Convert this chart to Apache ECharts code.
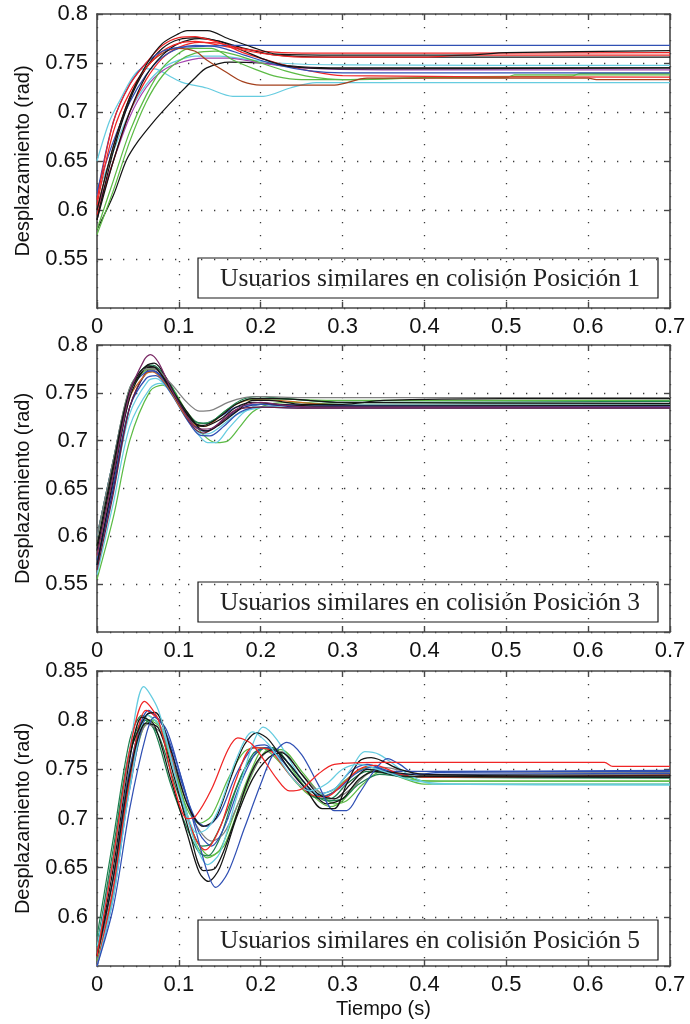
<!DOCTYPE html>
<html>
<head>
<meta charset="utf-8">
<script src="https://cdn.jsdelivr.net/npm/echarts@6/dist/echarts.min.js"></script>
<style>
  html, body { margin: 0; padding: 0; background: #fff; }
  #chart { width: 690px; height: 1024px; }
</style>
</head>
<body>
<div id="chart"></div>
<script>
// ---- Shared axis settings ----
const timeTicks = [0, 0.1, 0.2, 0.3, 0.4, 0.5, 0.6, 0.7];
const yRanges = [[0.5, 0.8], [0.5, 0.8], [0.55, 0.85]];
const boxTexts = [
  'Usuarios similares en colisión Posición 1',
  'Usuarios similares en colisión Posición 3',
  'Usuarios similares en colisión Posición 5'
];
const xTitle = 'Tiempo (s)';
const yTitle = 'Desplazamiento (rad)';

// ---- Colours ----
const C = {
  blue: '#3050b4', navy: '#1f2d86', red: '#f02525', black: '#151515',
  cyan: '#66cce0', green: '#5cbb45', dgreen: '#1f8050', brown: '#a4401c',
  purple: '#a444b0', plum: '#7a2a66', gray: '#808080', orange: '#cc6a22',
  maroon: '#6e2040'
};

// ---- Position 1 responses [t (s), rad] ----
const p1BlueA  = [[0,0.615],[0.02,0.69],[0.04,0.728],[0.06,0.75],[0.08,0.762],[0.1,0.766],[0.13,0.767],[0.16,0.768],[0.7,0.768]];
const p1RedA   = [[0,0.61],[0.02,0.69],[0.04,0.728],[0.06,0.75],[0.08,0.768],[0.1,0.776],[0.12,0.777],[0.14,0.773],[0.17,0.766],[0.2,0.762],[0.25,0.76],[0.7,0.7605]];
const p1BlackA = [[0,0.6],[0.02,0.665],[0.04,0.715],[0.06,0.748],[0.08,0.77],[0.1,0.78],[0.11,0.783],[0.135,0.783],[0.16,0.775],[0.19,0.766],[0.22,0.759],[0.3,0.758],[0.45,0.758],[0.5,0.7605],[0.7,0.7626]];
const p1BlackB = [[0,0.59],[0.02,0.65],[0.04,0.7],[0.06,0.737],[0.08,0.758],[0.1,0.77],[0.125,0.775],[0.15,0.772],[0.18,0.762],[0.21,0.752],[0.24,0.746],[0.3,0.744],[0.7,0.745]];
const p1Brown  = [[0,0.6],[0.02,0.665],[0.04,0.715],[0.06,0.745],[0.08,0.76],[0.099,0.765],[0.12,0.762],[0.134,0.753],[0.159,0.74],[0.178,0.731],[0.2,0.7275],[0.29,0.7275],[0.33,0.7345],[0.6,0.7345],[0.61,0.733],[0.7,0.733]];
const p1CyanA  = [[0,0.65],[0.015,0.69],[0.028,0.712],[0.044,0.736],[0.055,0.744],[0.07,0.744],[0.09,0.736],[0.105,0.73],[0.134,0.7245],[0.166,0.716],[0.203,0.716],[0.236,0.7245],[0.268,0.73],[0.7,0.73]];
const p1CyanB  = [[0,0.615],[0.02,0.66],[0.04,0.7],[0.06,0.728],[0.08,0.745],[0.1,0.753],[0.12,0.757],[0.15,0.757],[0.18,0.754],[0.22,0.75],[0.3,0.748],[0.7,0.7476]];
const p1Purple = [[0,0.6],[0.02,0.65],[0.04,0.695],[0.06,0.725],[0.08,0.742],[0.1,0.75],[0.13,0.755],[0.16,0.755],[0.2,0.75],[0.25,0.745],[0.35,0.743],[0.7,0.743]];
const p1GreenA = [[0,0.58],[0.02,0.63],[0.04,0.68],[0.06,0.717],[0.08,0.745],[0.1,0.76],[0.113,0.765],[0.14,0.765],[0.166,0.753],[0.195,0.743],[0.22,0.736],[0.25,0.733],[0.3,0.733],[0.45,0.736],[0.58,0.7365],[0.59,0.7395],[0.7,0.7395]];
const p1GreenB = [[0,0.575],[0.02,0.62],[0.04,0.67],[0.06,0.71],[0.08,0.737],[0.1,0.752],[0.12,0.76],[0.145,0.762],[0.17,0.758],[0.2,0.75],[0.23,0.742],[0.26,0.736],[0.3,0.733],[0.4,0.735],[0.5,0.735],[0.51,0.738],[0.7,0.738]];
const p1RedB   = [[0,0.595],[0.02,0.65],[0.04,0.7],[0.06,0.733],[0.08,0.755],[0.1,0.766],[0.125,0.771],[0.15,0.77],[0.18,0.76],[0.22,0.75],[0.26,0.742],[0.3,0.737],[0.7,0.7355]];
const p1BlackC = [[0,0.58],[0.02,0.615],[0.036,0.651],[0.05,0.67],[0.069,0.69],[0.085,0.705],[0.101,0.719],[0.12,0.735],[0.134,0.745],[0.162,0.751],[0.2,0.75],[0.25,0.746],[0.3,0.745],[0.7,0.745]];
const p1BlueB  = [[0,0.62],[0.02,0.67],[0.04,0.71],[0.06,0.738],[0.08,0.756],[0.1,0.765],[0.12,0.768],[0.15,0.766],[0.18,0.758],[0.22,0.748],[0.26,0.742],[0.3,0.74],[0.7,0.74]];
const p1RedC   = [[0,0.605],[0.02,0.68],[0.04,0.72],[0.06,0.745],[0.08,0.762],[0.1,0.77],[0.12,0.772],[0.15,0.768],[0.2,0.76],[0.25,0.756],[0.4,0.756],[0.45,0.758],[0.7,0.758]];
const p1BlackD = [[0,0.59],[0.02,0.66],[0.04,0.712],[0.06,0.745],[0.08,0.765],[0.1,0.774],[0.125,0.776],[0.15,0.772],[0.18,0.765],[0.22,0.758],[0.3,0.756],[0.7,0.756]];

// ---- Position 3 responses ----
const p3Plum   = [[0,0.58],[0.02,0.665],[0.04,0.75],[0.058,0.785],[0.065,0.79],[0.075,0.782],[0.09,0.755],[0.11,0.725],[0.125,0.712],[0.14,0.713],[0.16,0.727],[0.18,0.737],[0.2,0.74],[0.23,0.737],[0.26,0.735],[0.7,0.735]];
const p3BlackA = [[0,0.57],[0.02,0.66],[0.04,0.745],[0.06,0.778],[0.07,0.781],[0.085,0.765],[0.1,0.74],[0.12,0.718],[0.13,0.715],[0.15,0.722],[0.17,0.735],[0.19,0.74],[0.22,0.738],[0.28,0.736],[0.7,0.737]];
const p3BlackB = [[0,0.59],[0.02,0.675],[0.04,0.752],[0.062,0.778],[0.072,0.776],[0.09,0.755],[0.11,0.73],[0.125,0.713],[0.135,0.71],[0.15,0.717],[0.17,0.73],[0.19,0.742],[0.21,0.742],[0.25,0.738],[0.3,0.738],[0.35,0.742],[0.5,0.744],[0.7,0.744]];
const p3Gray   = [[0,0.6],[0.02,0.68],[0.04,0.755],[0.06,0.775],[0.07,0.775],[0.09,0.76],[0.11,0.74],[0.125,0.731],[0.14,0.732],[0.16,0.74],[0.18,0.745],[0.2,0.746],[0.25,0.745],[0.7,0.745]];
const p3GreenA = [[0,0.555],[0.02,0.62],[0.04,0.7],[0.065,0.752],[0.08,0.758],[0.09,0.752],[0.11,0.728],[0.13,0.706],[0.145,0.698],[0.16,0.7],[0.175,0.715],[0.19,0.73],[0.21,0.738],[0.24,0.74],[0.3,0.738],[0.7,0.738]];
const p3CyanA  = [[0,0.56],[0.02,0.635],[0.04,0.715],[0.065,0.755],[0.077,0.76],[0.09,0.752],[0.11,0.725],[0.125,0.705],[0.135,0.698],[0.145,0.698],[0.16,0.712],[0.18,0.73],[0.2,0.738],[0.24,0.737],[0.3,0.736],[0.7,0.736]];
const p3DGreen = [[0,0.6],[0.02,0.68],[0.04,0.755],[0.06,0.778],[0.068,0.779],[0.085,0.765],[0.105,0.735],[0.12,0.72],[0.135,0.718],[0.155,0.73],[0.175,0.742],[0.195,0.746],[0.23,0.744],[0.3,0.74],[0.7,0.741]];
const p3BlueA  = [[0,0.575],[0.02,0.655],[0.04,0.735],[0.06,0.765],[0.072,0.768],[0.09,0.75],[0.11,0.722],[0.125,0.706],[0.138,0.705],[0.155,0.715],[0.175,0.73],[0.2,0.735],[0.25,0.734],[0.7,0.734]];
const p3Navy   = [[0,0.57],[0.02,0.65],[0.04,0.735],[0.062,0.772],[0.07,0.773],[0.09,0.752],[0.11,0.725],[0.13,0.71],[0.14,0.712],[0.16,0.725],[0.18,0.735],[0.2,0.738],[0.25,0.735],[0.4,0.735],[0.7,0.735]];
const p3Orange = [[0,0.58],[0.02,0.665],[0.04,0.745],[0.06,0.77],[0.068,0.772],[0.085,0.758],[0.105,0.73],[0.12,0.716],[0.132,0.715],[0.15,0.725],[0.17,0.738],[0.19,0.743],[0.22,0.742],[0.3,0.737],[0.7,0.737]];
const p3Maroon = [[0,0.565],[0.02,0.645],[0.04,0.735],[0.06,0.772],[0.07,0.775],[0.085,0.762],[0.105,0.73],[0.12,0.712],[0.13,0.708],[0.15,0.718],[0.17,0.732],[0.2,0.735],[0.25,0.734],[0.7,0.734]];
const p3BlackC = [[0,0.585],[0.02,0.67],[0.04,0.75],[0.06,0.776],[0.07,0.777],[0.085,0.76],[0.105,0.733],[0.12,0.718],[0.13,0.716],[0.15,0.725],[0.17,0.738],[0.19,0.744],[0.22,0.744],[0.3,0.74],[0.7,0.739]];
const p3GreenB = [[0,0.59],[0.02,0.672],[0.04,0.75],[0.06,0.774],[0.07,0.775],[0.09,0.758],[0.11,0.73],[0.125,0.718],[0.14,0.72],[0.16,0.733],[0.18,0.742],[0.2,0.744],[0.3,0.742],[0.7,0.742]];
const p3CyanB  = [[0,0.57],[0.02,0.648],[0.04,0.728],[0.062,0.762],[0.072,0.765],[0.09,0.75],[0.11,0.722],[0.125,0.708],[0.135,0.707],[0.15,0.714],[0.17,0.727],[0.19,0.733],[0.22,0.736],[0.3,0.738],[0.7,0.738]];
const p3BlueB  = [[0,0.6],[0.02,0.68],[0.04,0.752],[0.06,0.772],[0.068,0.773],[0.085,0.76],[0.1,0.74],[0.12,0.72],[0.13,0.718],[0.15,0.725],[0.17,0.735],[0.2,0.738],[0.3,0.737],[0.7,0.736]];

// ---- Position 5 responses ----
const p5CyanA  = [[0,0.57],[0.02,0.66],[0.04,0.77],[0.057,0.834],[0.075,0.81],[0.095,0.745],[0.112,0.7],[0.122,0.685],[0.135,0.69],[0.15,0.712],[0.17,0.76],[0.19,0.788],[0.21,0.775],[0.24,0.74],[0.26,0.728],[0.28,0.735],[0.30,0.75],[0.32,0.755],[0.35,0.748],[0.39,0.738],[0.45,0.735],[0.7,0.735]];
const p5CyanB  = [[0,0.55],[0.02,0.62],[0.04,0.73],[0.062,0.805],[0.08,0.79],[0.1,0.73],[0.12,0.675],[0.135,0.653],[0.15,0.665],[0.17,0.72],[0.19,0.775],[0.203,0.793],[0.22,0.78],[0.25,0.74],[0.27,0.725],[0.29,0.73],[0.31,0.75],[0.327,0.768],[0.345,0.765],[0.38,0.745],[0.41,0.735],[0.7,0.734]];
const p5RedA   = [[0,0.56],[0.02,0.66],[0.04,0.77],[0.058,0.819],[0.075,0.8],[0.095,0.73],[0.11,0.7],[0.12,0.702],[0.14,0.73],[0.16,0.77],[0.172,0.782],[0.19,0.775],[0.22,0.74],[0.235,0.728],[0.25,0.73],[0.27,0.745],[0.29,0.755],[0.35,0.757],[0.62,0.757],[0.63,0.753],[0.7,0.753]];
const p5RedB   = [[0,0.55],[0.02,0.63],[0.04,0.74],[0.06,0.81],[0.08,0.795],[0.1,0.73],[0.12,0.68],[0.132,0.668],[0.15,0.69],[0.17,0.74],[0.19,0.772],[0.21,0.77],[0.235,0.745],[0.26,0.725],[0.28,0.722],[0.3,0.735],[0.32,0.75],[0.34,0.754],[0.37,0.745],[0.4,0.742],[0.7,0.744]];
const p5BlackA = [[0,0.56],[0.02,0.65],[0.04,0.76],[0.055,0.803],[0.07,0.795],[0.09,0.74],[0.11,0.685],[0.125,0.645],[0.136,0.636],[0.15,0.65],[0.17,0.7],[0.19,0.74],[0.21,0.762],[0.225,0.767],[0.25,0.745],[0.27,0.725],[0.29,0.72],[0.31,0.735],[0.33,0.75],[0.36,0.747],[0.4,0.744],[0.7,0.744]];
const p5BlackB = [[0,0.57],[0.02,0.66],[0.04,0.765],[0.06,0.805],[0.071,0.808],[0.09,0.77],[0.11,0.715],[0.13,0.692],[0.145,0.7],[0.165,0.745],[0.18,0.775],[0.195,0.787],[0.21,0.78],[0.235,0.75],[0.255,0.73],[0.275,0.71],[0.29,0.71],[0.305,0.735],[0.32,0.758],[0.335,0.762],[0.37,0.75],[0.4,0.745],[0.7,0.742]];
const p5BlackC = [[0,0.56],[0.02,0.64],[0.04,0.745],[0.06,0.797],[0.075,0.792],[0.095,0.74],[0.115,0.68],[0.13,0.647],[0.145,0.65],[0.165,0.69],[0.185,0.74],[0.2,0.763],[0.215,0.77],[0.235,0.755],[0.26,0.73],[0.28,0.715],[0.3,0.72],[0.32,0.74],[0.34,0.748],[0.37,0.743],[0.7,0.742]];
const p5BlueA  = [[0,0.55],[0.02,0.61],[0.04,0.71],[0.06,0.785],[0.07,0.803],[0.08,0.795],[0.1,0.75],[0.12,0.69],[0.135,0.645],[0.145,0.63],[0.16,0.645],[0.18,0.69],[0.2,0.735],[0.215,0.765],[0.232,0.7775],[0.25,0.765],[0.27,0.735],[0.29,0.708],[0.305,0.708],[0.32,0.725],[0.34,0.75],[0.355,0.761],[0.37,0.755],[0.39,0.745],[0.42,0.747],[0.7,0.748]];
const p5BlueB  = [[0,0.56],[0.02,0.64],[0.04,0.75],[0.063,0.81],[0.08,0.795],[0.1,0.745],[0.12,0.7],[0.133,0.692],[0.15,0.705],[0.17,0.745],[0.19,0.772],[0.205,0.775],[0.225,0.76],[0.25,0.735],[0.27,0.725],[0.29,0.73],[0.31,0.748],[0.33,0.755],[0.36,0.748],[0.4,0.748],[0.7,0.749]];
const p5BlueC  = [[0,0.55],[0.02,0.62],[0.04,0.73],[0.065,0.808],[0.085,0.79],[0.105,0.735],[0.125,0.685],[0.14,0.672],[0.155,0.69],[0.175,0.735],[0.195,0.768],[0.21,0.772],[0.23,0.76],[0.255,0.735],[0.275,0.722],[0.295,0.73],[0.315,0.745],[0.335,0.752],[0.37,0.745],[0.4,0.745],[0.7,0.746]];
const p5Gray   = [[0,0.56],[0.02,0.63],[0.04,0.74],[0.062,0.796],[0.08,0.785],[0.1,0.74],[0.12,0.695],[0.14,0.677],[0.155,0.685],[0.175,0.72],[0.195,0.755],[0.21,0.768],[0.225,0.768],[0.25,0.745],[0.27,0.728],[0.29,0.72],[0.31,0.73],[0.33,0.745],[0.35,0.752],[0.38,0.748],[0.7,0.747]];
const p5GreenA = [[0,0.57],[0.02,0.66],[0.04,0.765],[0.06,0.8],[0.07,0.8],[0.09,0.76],[0.11,0.71],[0.125,0.695],[0.14,0.703],[0.16,0.74],[0.18,0.768],[0.2,0.772],[0.22,0.76],[0.245,0.735],[0.265,0.722],[0.285,0.725],[0.305,0.74],[0.33,0.752],[0.35,0.75],[0.38,0.74],[0.42,0.738],[0.7,0.738]];
const p5GreenB = [[0,0.555],[0.02,0.625],[0.04,0.735],[0.064,0.8],[0.08,0.79],[0.1,0.735],[0.12,0.68],[0.138,0.662],[0.155,0.672],[0.175,0.715],[0.195,0.755],[0.21,0.77],[0.225,0.77],[0.25,0.748],[0.27,0.728],[0.29,0.715],[0.305,0.718],[0.325,0.735],[0.345,0.747],[0.37,0.745],[0.4,0.738],[0.7,0.738]];
const p5GreenC = [[0,0.56],[0.02,0.64],[0.04,0.75],[0.062,0.805],[0.08,0.79],[0.1,0.735],[0.12,0.676],[0.135,0.66],[0.15,0.668],[0.17,0.71],[0.19,0.752],[0.205,0.772],[0.22,0.77],[0.245,0.742],[0.265,0.722],[0.285,0.712],[0.3,0.718],[0.32,0.738],[0.34,0.75],[0.37,0.742],[0.4,0.735],[0.7,0.735]];
const p5DGreenA = [[0,0.58],[0.02,0.68],[0.04,0.78],[0.055,0.805],[0.07,0.79],[0.09,0.735],[0.11,0.69],[0.125,0.665],[0.135,0.662],[0.15,0.68],[0.17,0.73],[0.19,0.765],[0.205,0.772],[0.22,0.765],[0.245,0.74],[0.265,0.722],[0.285,0.72],[0.305,0.735],[0.33,0.748],[0.36,0.745],[0.4,0.742],[0.7,0.742]];
const p5DGreenB = [[0,0.57],[0.02,0.67],[0.04,0.77],[0.058,0.8],[0.075,0.785],[0.095,0.735],[0.115,0.69],[0.128,0.672],[0.14,0.675],[0.16,0.71],[0.18,0.75],[0.2,0.77],[0.215,0.772],[0.235,0.755],[0.26,0.73],[0.28,0.718],[0.3,0.72],[0.32,0.735],[0.345,0.745],[0.38,0.742],[0.7,0.741]];

const panels = [
  [
    [p1CyanA, C.cyan], [p1CyanB, C.cyan], [p1BlackC, C.black], [p1Purple, C.purple],
    [p1GreenA, C.green], [p1GreenB, C.green], [p1RedB, C.red], [p1BlueB, C.blue],
    [p1Brown, C.brown], [p1BlackB, C.black], [p1BlackD, C.black], [p1RedC, C.red],
    [p1BlueA, C.blue], [p1RedA, C.red], [p1BlackA, C.black]
  ],
  [
    [p3GreenA, C.green], [p3CyanA, C.cyan], [p3CyanB, C.cyan], [p3BlueA, C.blue],
    [p3Navy, C.navy], [p3Maroon, C.maroon], [p3Orange, C.orange], [p3BlueB, C.blue],
    [p3GreenB, C.green], [p3DGreen, C.dgreen], [p3BlackC, C.black], [p3BlackA, C.black],
    [p3Gray, C.gray], [p3BlackB, C.black], [p3Plum, C.plum]
  ],
  [
    [p5GreenA, C.green], [p5GreenB, C.green], [p5GreenC, C.green], [p5DGreenA, C.dgreen],
    [p5DGreenB, C.dgreen], [p5Gray, C.gray], [p5BlueB, C.blue], [p5BlueC, C.blue],
    [p5RedB, C.red], [p5CyanB, C.cyan], [p5BlackC, C.black], [p5BlackA, C.black],
    [p5BlueA, C.blue], [p5BlackB, C.black], [p5CyanA, C.cyan], [p5RedA, C.red]
  ]
];

// ---- Layout ----
const gridBoxes = [
  { left: 97, top: 14, width: 573, height: 294 },
  { left: 97, top: 345, width: 573, height: 287 },
  { left: 97, top: 671, width: 573, height: 295 }
];
const frame = '#474747';
const sansFamily = 'Liberation Sans, Arial, sans-serif';
const tickFont = { fontFamily: sansFamily, fontSize: 22, color: '#111' };
const titleFont = { fontFamily: sansFamily, fontSize: 20, color: '#111' };
const dotted = { color: '#3a3a3a', width: 1.3, type: [1.3, 11.7] };

const option = {
  animation: false,
  backgroundColor: '#fff',
  grid: gridBoxes.map(g => Object.assign({ containLabel: false }, g)),
  xAxis: [],
  yAxis: [],
  series: [],
  graphic: []
};

gridBoxes.forEach((g, i) => {
  const [ymin, ymax] = yRanges[i];
  // bottom axis with labels + grid
  option.xAxis.push({
    type: 'value', gridIndex: i, min: timeTicks[0], max: timeTicks[timeTicks.length - 1], interval: 0.1,
    position: 'bottom',
    axisLine: { show: true, onZero: false, lineStyle: { color: frame, width: 1.6 } },
    axisTick: { show: true, inside: true, length: 6, lineStyle: { color: frame, width: 1.4 } },
    axisLabel: Object.assign({ margin: 8 }, tickFont),
    splitLine: { show: true, lineStyle: dotted },
    name: i === 2 ? xTitle : '', nameLocation: 'middle', nameGap: 33,
    nameTextStyle: titleFont
  });
  // top mirror axis
  option.xAxis.push({
    type: 'value', gridIndex: i, min: timeTicks[0], max: timeTicks[timeTicks.length - 1], interval: 0.1,
    position: 'top',
    axisLine: { show: true, onZero: false, lineStyle: { color: frame, width: 1.6 } },
    axisTick: { show: true, inside: true, length: 6, lineStyle: { color: frame, width: 1.4 } },
    axisLabel: { show: false }, splitLine: { show: false }
  });
  option.yAxis.push({
    type: 'value', gridIndex: i, min: ymin, max: ymax, interval: 0.05,
    position: 'left',
    axisLine: { show: true, onZero: false, lineStyle: { color: frame, width: 1.6 } },
    axisTick: { show: true, inside: true, length: 6, lineStyle: { color: frame, width: 1.4 } },
    axisLabel: Object.assign({ margin: 9, showMinLabel: false }, tickFont),
    splitLine: { show: true, lineStyle: dotted },
    name: yTitle, nameLocation: 'middle', nameGap: 64, nameRotate: 90,
    nameTextStyle: titleFont
  });
  option.yAxis.push({
    type: 'value', gridIndex: i, min: ymin, max: ymax, interval: 0.05,
    position: 'right',
    axisLine: { show: true, onZero: false, lineStyle: { color: frame, width: 1.6 } },
    axisTick: { show: true, inside: true, length: 6, lineStyle: { color: frame, width: 1.4 } },
    axisLabel: { show: false }, splitLine: { show: false }
  });

  panels[i].forEach(([pts, color]) => {
    option.series.push({
      type: 'line', xAxisIndex: 2 * i, yAxisIndex: 2 * i,
      data: pts, showSymbol: false, smooth: 0.3,
      lineStyle: { color: color, width: 1.25 },
      clip: true, silent: true, z: 3
    });
  });

  // annotation box, lower right of each panel
  const bw = 460, bh = 40;
  const bx = 198, by = g.top + g.height - (i === 2 ? 6 : 10) - bh;
  option.graphic.push({
    type: 'group', z: 100,
    children: [
      { type: 'rect', shape: { x: bx, y: by, width: bw, height: bh },
        style: { fill: '#fff', stroke: '#1a1a1a', lineWidth: 1.2 } },
      { type: 'text', x: bx + bw / 2 + 2, y: by + bh / 2 + 1,
        style: { text: boxTexts[i], font: '25.5px "Liberation Serif", "Times New Roman", serif',
                 fill: '#222', align: 'center', verticalAlign: 'middle' } }
    ]
  });
});

const chart = echarts.init(document.getElementById('chart'), null, { renderer: 'canvas' });
chart.setOption(option);
</script>
</body>
</html>
